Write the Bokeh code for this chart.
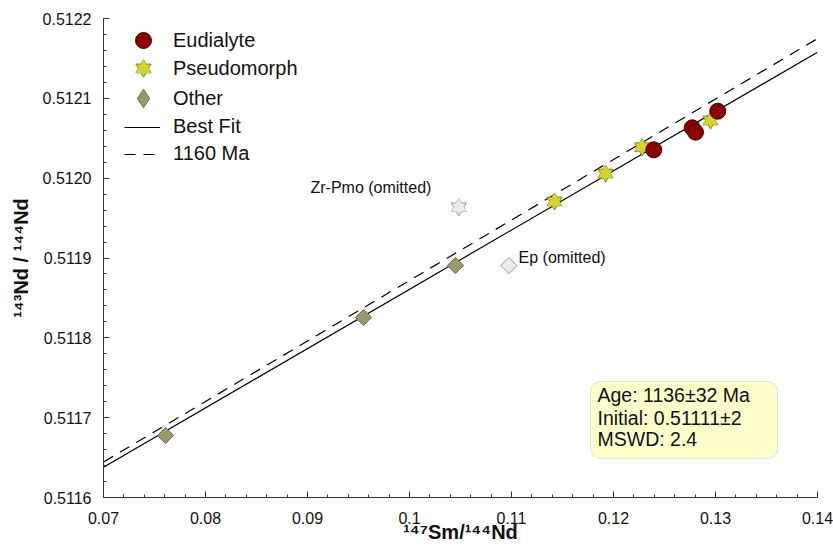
import numpy as np
from bokeh.plotting import figure
from bokeh.models import (Range1d, FixedTicker, Legend, LegendItem, Label,
                          BoxAnnotation, CustomJSTickFormatter)
from bokeh.embed import file_html
from bokeh.resources import INLINE

# ---------------- data ----------------
eud_x = [0.12395, 0.12772, 0.12804, 0.13022]
eud_y = [0.5120355, 0.5120631, 0.5120576, 0.5120839]

pse_x = [0.11422, 0.11922, 0.12281, 0.12951]
pse_y = [0.5119708, 0.5120058, 0.5120388, 0.5120722]

oth_x = [0.07608, 0.09549, 0.10451]
oth_y = [0.5116777, 0.5118255, 0.5118906]

zrpmo_x = [0.10483]
zrpmo_y = [0.5119636]
ep_x = [0.10974]
ep_y = [0.5118906]

fit_x = [0.07, 0.14]
fit_y = [0.511638, 0.5121578]
ref_x = [0.07, 0.14]
ref_y = [0.5116445, 0.5121749]

x_ticks = [0.07, 0.08, 0.09, 0.10, 0.11, 0.12, 0.13, 0.14]
x_tick_labels = ["0.07", "0.08", "0.09", "0.1", "0.11", "0.12", "0.13", "0.14"]
y_ticks = [0.5116, 0.5117, 0.5118, 0.5119, 0.5120, 0.5121, 0.5122]
y_tick_labels = ["0.5116", "0.5117", "0.5118", "0.5119", "0.5120", "0.5121", "0.5122"]

stats_lines = ["Age: 1136±32 Ma", "Initial: 0.51111±2", "MSWD: 2.4"]

FONT = "Liberation Sans"
EUD_FILL, EUD_LINE = "#8b0000", "#420000"
PSE_FILL, PSE_LINE = "#d4d432", "#85851c"
OTH_FILL, OTH_LINE = "#99996b", "#6b6b4a"
OMIT_FILL, OMIT_LINE = "#ebebeb", "#9a9a9a"

p = figure(width=833, height=549, output_backend="svg", toolbar_location=None,
           x_range=Range1d(0.07, 0.14), y_range=Range1d(0.5116, 0.5122),
           min_border_left=103, min_border_right=16, min_border_top=18,
           min_border_bottom=52, title=None)
p.xgrid.visible = False
p.ygrid.visible = False
p.outline_line_color = None
p.background_fill_color = "white"
p.border_fill_color = "white"

x_minor = list(np.round(np.arange(0.07, 0.14 + 1e-9, 0.002), 4))
y_minor = list(np.round(np.arange(0.5116, 0.5122 + 1e-9, 0.00002), 6))
p.xaxis.ticker = FixedTicker(ticks=x_ticks, minor_ticks=x_minor)
p.yaxis.ticker = FixedTicker(ticks=y_ticks, minor_ticks=y_minor)
fmt_code = "const i = tv.findIndex(v => Math.abs(v - tick) < 1e-9); return i < 0 ? '' : tl[i];"
p.xaxis.formatter = CustomJSTickFormatter(args=dict(tv=x_ticks, tl=x_tick_labels), code=fmt_code)
p.yaxis.formatter = CustomJSTickFormatter(args=dict(tv=y_ticks, tl=y_tick_labels), code=fmt_code)

for ax in (p.xaxis, p.yaxis):
    ax.axis_line_color = "#333333"
    ax.major_tick_line_color = "#333333"
    ax.minor_tick_line_color = "#333333"
    ax.major_tick_in = 6
    ax.major_tick_out = 0
    ax.minor_tick_in = 3
    ax.minor_tick_out = 0
    ax.major_label_text_font = FONT
    ax.major_label_text_font_size = "16px"
    ax.major_label_text_color = "#111111"
    ax.axis_label_text_font = FONT
    ax.axis_label_text_font_size = "20px"
    ax.axis_label_text_font_style = "bold"
    ax.axis_label_text_color = "#111111"

p.xaxis.axis_label = "¹⁴⁷Sm/¹⁴⁴Nd"
p.yaxis.axis_label = "¹⁴³Nd / ¹⁴⁴Nd"
p.xaxis.major_label_standoff = 14
p.xaxis.axis_label_standoff = -6
p.yaxis.major_label_standoff = 12
p.yaxis.axis_label_standoff = 8

# lines
r_fit = p.line(fit_x, fit_y, line_color="black", line_width=1.2)
r_ref = p.line(ref_x, ref_y, line_color="black", line_width=1.2, line_dash="11 8")

# omitted points
p.scatter(ep_x, ep_y, marker="square", angle=np.pi / 4, size=11.5,
          fill_color=OMIT_FILL, line_color=OMIT_LINE)
p.scatter(zrpmo_x, zrpmo_y, marker="triangle", size=15, fill_color=OMIT_FILL, line_color=OMIT_LINE)
p.scatter(zrpmo_x, zrpmo_y, marker="inverted_triangle", size=15, fill_color=OMIT_FILL, line_color=OMIT_LINE)
p.scatter(zrpmo_x, zrpmo_y, marker="triangle", size=15, fill_color=OMIT_FILL, line_color=None)

# Other (legend swatch renderer has zero size in the plot)
r_oth_leg = p.scatter(oth_x, oth_y, marker="diamond", size=0,
                      fill_color=OTH_FILL, line_color=OTH_LINE)
r_oth = p.scatter(oth_x, oth_y, marker="square", angle=np.pi / 4, size=11.5,
                  fill_color=OTH_FILL, line_color=OTH_LINE)
# Pseudomorph (six-pointed star from two triangles)
r_s1 = p.scatter(pse_x, pse_y, marker="triangle", size=15, fill_color=PSE_FILL, line_color=PSE_LINE)
r_s2 = p.scatter(pse_x, pse_y, marker="inverted_triangle", size=15, fill_color=PSE_FILL, line_color=PSE_LINE)
r_s3 = p.scatter(pse_x, pse_y, marker="triangle", size=15, fill_color=PSE_FILL, line_color=None)
# Eudialyte
r_eud = p.scatter(eud_x, eud_y, marker="circle", size=16, fill_color=EUD_FILL, line_color=EUD_LINE)

# point annotations
p.add_layout(Label(x=0.09029, y=0.5119883, text="Zr-Pmo (omitted)", text_font=FONT,
                   text_font_size="16px", text_baseline="middle", text_color="#111111"))
p.add_layout(Label(x=0.11069, y=0.5119006, text="Ep (omitted)", text_font=FONT,
                   text_font_size="16px", text_baseline="middle", text_color="#111111"))

# stats box
p.add_layout(BoxAnnotation(left=0.117745, right=0.136078, top=0.5117453, bottom=0.5116488,
                           fill_color="#ffffcc", fill_alpha=1, line_color="#a0a0a0",
                           line_width=1, border_radius=10))
for yy, t in zip([0.5117278, 0.5117002, 0.5116739], stats_lines):
    p.add_layout(Label(x=0.118431, y=yy, text=t, text_font=FONT, text_font_size="19.5px",
                       text_baseline="middle", text_color="#111111"))


def make_legend(label, renderers, gw, gh, loc, standoff):
    lg = Legend(items=[LegendItem(label=label, renderers=renderers)])
    lg.location = loc
    lg.border_line_color = None
    lg.background_fill_alpha = 0
    lg.label_text_font = FONT
    lg.label_text_font_size = "20px"
    lg.label_text_color = "#111111"
    lg.glyph_width = gw
    lg.glyph_height = gh
    lg.label_height = 20
    lg.label_standoff = standoff
    lg.spacing = 0
    lg.padding = 0
    lg.margin = 0
    p.add_layout(lg)


make_legend("Eudialyte", [r_eud], 40, 40, (20, 437), 10)
make_legend("Pseudomorph", [r_s1, r_s2, r_s3], 38, 38, (21, 410), 11)
make_legend("Other", [r_oth_leg], 46, 46, (17, 376), 7)
make_legend("Best Fit", [r_fit], 36, 20, (21, 359), 13)
make_legend("1160 Ma", [r_ref], 36, 20, (21, 332), 13)

open("out.html", "w").write(file_html(p, INLINE))
